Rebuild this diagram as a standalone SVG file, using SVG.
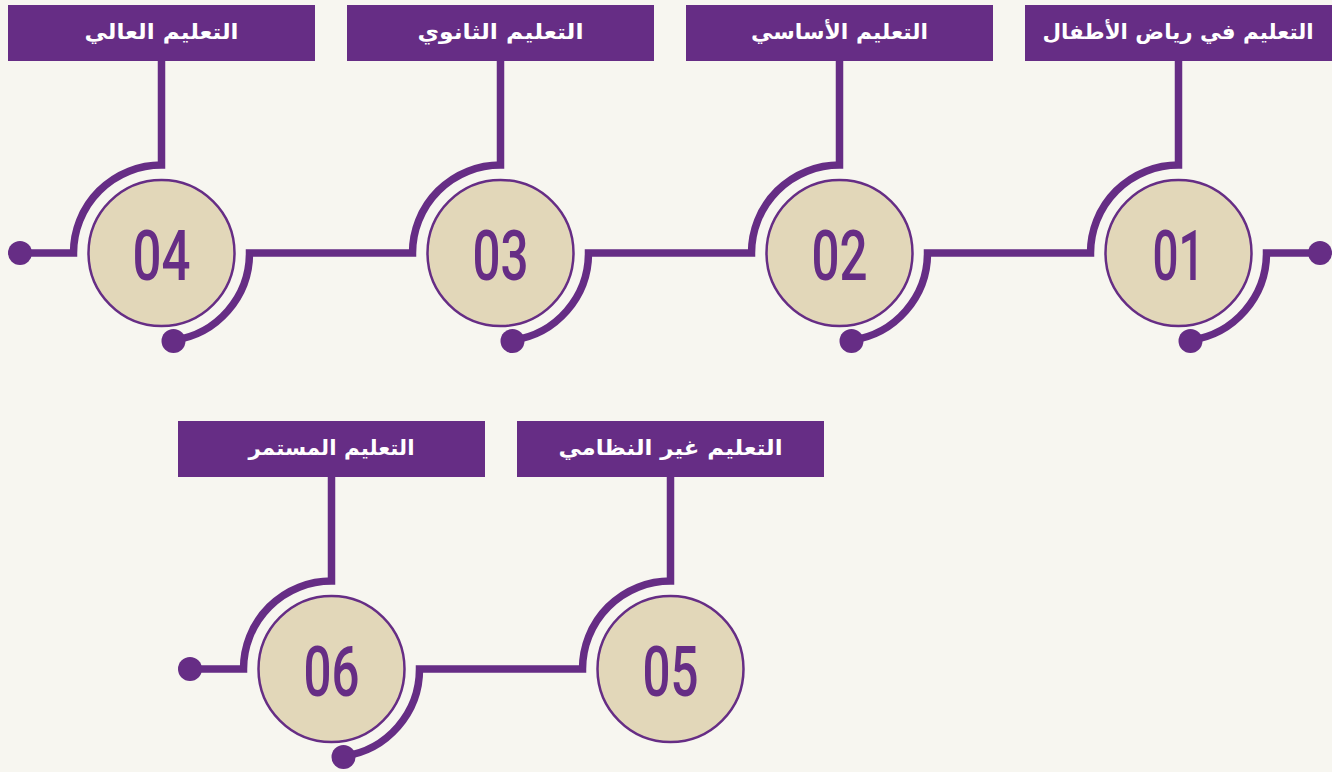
<svg xmlns="http://www.w3.org/2000/svg" width="1332" height="772" viewBox="0 0 1332 772">
<style>
.bg{fill:#F7F6F0}
.ln{fill:none;stroke:#662D85;stroke-width:7.5;stroke-linejoin:miter;stroke-linecap:butt}
.dot{fill:#662D85}
.ring{fill:#E2D7B9;stroke:#662D85;stroke-width:2.5}
.box{fill:#662D85}
.num{font-family:Roboto,"DejaVu Sans",sans-serif;font-weight:500;font-size:70px;fill:#662D85;text-anchor:middle}
.lbl{font-family:"DejaVu Sans","Noto Sans",sans-serif;font-weight:700;font-size:21px;fill:#FFFFFF;text-anchor:middle}
</style>
<rect class="bg" x="0" y="0" width="1332" height="772"/>
<g id="connectors">
<path class="ln" d="M1320 253 H1266.5 A88 88 0 0 1 1190.5 340.2"/>
<path class="ln" d="M851.5 340.2 A88 88 0 0 0 927.5 253 H1090.5 A88 88 0 0 1 1178.5 165 V61"/>
<path class="ln" d="M512.5 340.2 A88 88 0 0 0 588.5 253 H751.5 A88 88 0 0 1 839.5 165 V61"/>
<path class="ln" d="M173.5 340.2 A88 88 0 0 0 249.5 253 H412.5 A88 88 0 0 1 500.5 165 V61"/>
<path class="ln" d="M20 253 H73.5 A88 88 0 0 1 161.5 165 V61"/>
<path class="ln" d="M190 669 H243.5 A88 88 0 0 1 331.5 581 V477"/>
<path class="ln" d="M343.5 756.2 A88 88 0 0 0 419.5 669 H582.5 A88 88 0 0 1 670.5 581 V477"/>
<circle class="dot" cx="1320" cy="253" r="12"/>
<circle class="dot" cx="20" cy="253" r="12"/>
<circle class="dot" cx="1190.5" cy="341" r="12"/>
<circle class="dot" cx="851.5" cy="341" r="12"/>
<circle class="dot" cx="512.5" cy="341" r="12"/>
<circle class="dot" cx="173.5" cy="341" r="12"/>
<circle class="dot" cx="190" cy="669" r="12"/>
<circle class="dot" cx="343.5" cy="757" r="12"/>
</g>
<g id="node01">
<rect class="box" x="1025" y="5" width="307" height="56"/>
<text class="lbl" x="1178" y="39" direction="rtl" textLength="271" lengthAdjust="spacingAndGlyphs">التعليم في رياض الأطفال</text>
<circle class="ring" cx="1178.5" cy="253" r="73"/>
<text class="num" x="1178.5" y="280" textLength="52" lengthAdjust="spacingAndGlyphs">01</text>
</g>
<g id="node02">
<rect class="box" x="686" y="5" width="307" height="56"/>
<text class="lbl" x="839.5" y="39" direction="rtl" textLength="177" lengthAdjust="spacingAndGlyphs">التعليم الأساسي</text>
<circle class="ring" cx="839.5" cy="253" r="73"/>
<text class="num" x="839.5" y="280" textLength="56" lengthAdjust="spacingAndGlyphs">02</text>
</g>
<g id="node03">
<rect class="box" x="347" y="5" width="307" height="56"/>
<text class="lbl" x="500.5" y="39" direction="rtl" textLength="166" lengthAdjust="spacingAndGlyphs">التعليم الثانوي</text>
<circle class="ring" cx="500.5" cy="253" r="73"/>
<text class="num" x="500.5" y="280" textLength="56" lengthAdjust="spacingAndGlyphs">03</text>
</g>
<g id="node04">
<rect class="box" x="8" y="5" width="307" height="56"/>
<text class="lbl" x="161.5" y="39" direction="rtl" textLength="154" lengthAdjust="spacingAndGlyphs">التعليم العالي</text>
<circle class="ring" cx="161.5" cy="253" r="73"/>
<text class="num" x="161.5" y="280" textLength="58" lengthAdjust="spacingAndGlyphs">04</text>
</g>
<g id="node05">
<rect class="box" x="517" y="421" width="307" height="56"/>
<text class="lbl" x="670.5" y="455" direction="rtl" textLength="224" lengthAdjust="spacingAndGlyphs">التعليم غير النظامي</text>
<circle class="ring" cx="670.5" cy="669" r="73"/>
<text class="num" x="670.5" y="696" textLength="56" lengthAdjust="spacingAndGlyphs">05</text>
</g>
<g id="node06">
<rect class="box" x="178" y="421" width="307" height="56"/>
<text class="lbl" x="331.5" y="455" direction="rtl" textLength="166" lengthAdjust="spacingAndGlyphs">التعليم المستمر</text>
<circle class="ring" cx="331.5" cy="669" r="73"/>
<text class="num" x="331.5" y="696" textLength="56" lengthAdjust="spacingAndGlyphs">06</text>
</g>
</svg>
